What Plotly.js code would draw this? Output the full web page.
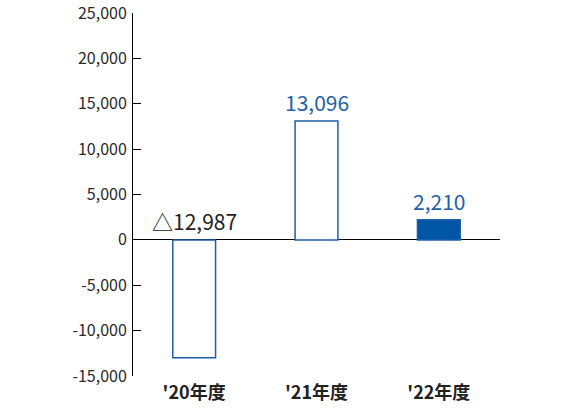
<!DOCTYPE html>
<html>
<head>
<meta charset="utf-8">
<script src="https://cdn.plot.ly/plotly-3.0.1.min.js"></script>
<style>
  html, body { margin: 0; padding: 0; background: #fff; }
  #chart { width: 580px; height: 420px; }
</style>
</head>
<body>
<div id="chart"></div>
<script>
const years = ["'20年度", "'21年度", "'22年度"];
const profit = [-12987, 13096, 2210];
const labels = ["△12,987", "13,096", "2,210"];
const labelColors = ["#222222", "#1f5fa8", "#1f5fa8"];
const fillColors = ["#ffffff", "#ffffff", "#0055a5"];
const yTicks = [-15000, -10000, -5000, 0, 5000, 10000, 15000, 20000, 25000];
const yTickText = ["-15,000", "-10,000", "-5,000", "0", "5,000", "10,000", "15,000", "20,000", "25,000"];

const blue = "#1f5fa8";
const font = '"Noto Sans CJK JP", "Noto Sans", sans-serif';

const bars = {
    x: years,
    y: profit,
    type: 'bar',
    marker: {
        color: fillColors,
        line: { color: blue, width: 1.5 }
    },
    hoverinfo: 'none'
};

let notes = [];
for (let i = 0; i < years.length; i++) {
    notes.push({
        x: years[i],
        y: Math.max(profit[i], 0),
        xref: 'x',
        yref: 'y',
        text: labels[i],
        showarrow: false,
        yanchor: 'bottom',
        yshift: 2,
        font: { family: font, size: 21, color: labelColors[i] }
    });
}

const layout = {
    width: 580,
    height: 420,
    margin: { l: 133, r: 80, t: 13, b: 44 },
    paper_bgcolor: '#ffffff',
    plot_bgcolor: '#ffffff',
    showlegend: false,
    bargap: 0.65,
    font: { family: font, color: '#333333' },
    xaxis: {
        showline: false,
        showgrid: false,
        zeroline: false,
        ticks: '',
        ticklabelstandoff: 4,
        tickfont: { family: font, size: 18, color: '#222222', weight: 'bold' }
    },
    yaxis: {
        range: [-15000, 25000],
        tickmode: 'array',
        tickvals: yTicks,
        ticktext: yTickText,
        ticklabeloverflow: 'allow',
        showgrid: false,
        showline: true,
        linecolor: '#000000',
        linewidth: 1,
        ticks: 'inside',
        ticklen: 8,
        tickcolor: '#000000',
        ticklabelstandoff: 2,
        zeroline: true,
        zerolinecolor: '#000000',
        zerolinewidth: 1,
        tickfont: { family: font, size: 16, color: '#2a2a2a' }
    },
    annotations: notes
};

Plotly.newPlot('chart', [bars], layout, { displayModeBar: false, staticPlot: true });
</script>
</body>
</html>
